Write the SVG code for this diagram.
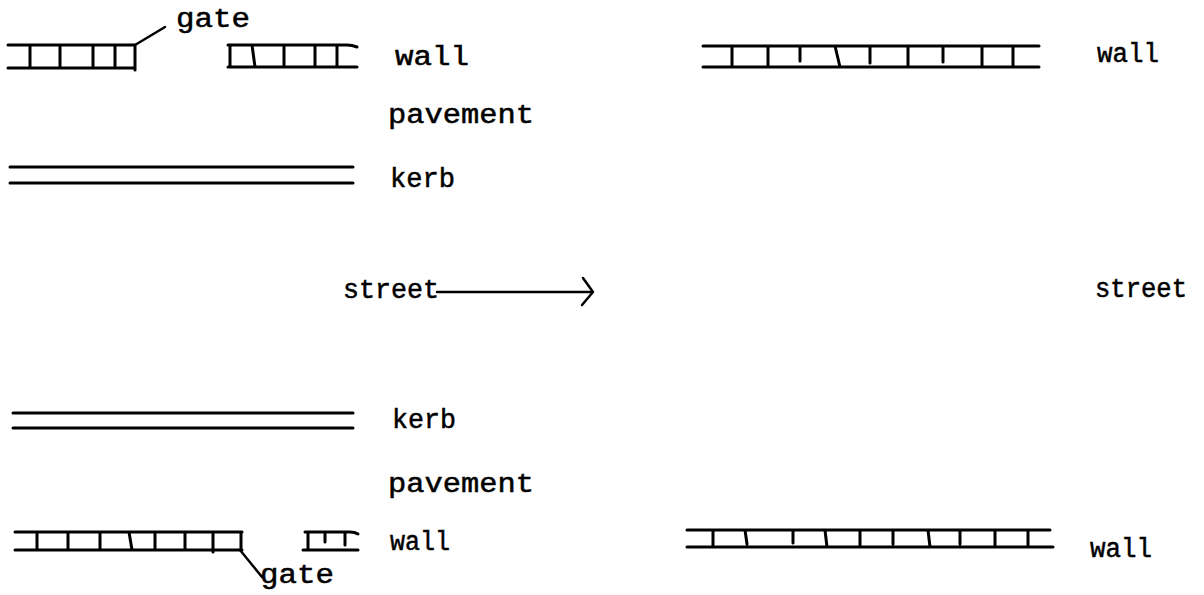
<svg xmlns="http://www.w3.org/2000/svg" width="1204" height="595" viewBox="0 0 1204 595">
<style>
.w{fill:none;stroke:#000;stroke-width:3;stroke-linecap:round;stroke-linejoin:round}
.k{fill:none;stroke:#000;stroke-width:3;stroke-linecap:round}
.c{fill:none;stroke:#000;stroke-width:2.5;stroke-linecap:round;stroke-linejoin:round}
text{font-family:"Liberation Mono","Courier New",monospace;fill:#000;stroke:#000;stroke-width:0.5;font-size:27px}
</style>
<rect width="1204" height="595" fill="#fff"/>
<g id="wall-top-left-a">
<path class="w" d="M8,45 H135 M8,68 H135 M30,45 V68 M60,45 V68 M93,45 V68 M115,45 V68 M135,45 V70"/>
</g>
<g id="wall-top-left-b">
<path class="w" d="M228,45 H347 Q352,45 357,47 M228,67 H357 M230,45 V67 M252,45 L255,67 M284,45 V67 M315,45 V67 M337,45 V67"/>
<text x="395" y="65" textLength="74" lengthAdjust="spacingAndGlyphs">wall</text>
</g>
<g id="gate-top">
<text x="176" y="27" textLength="74" lengthAdjust="spacingAndGlyphs">gate</text>
</g>
<g id="pavement-top">
<text x="388" y="123" textLength="146" lengthAdjust="spacingAndGlyphs">pavement</text>
</g>
<g id="kerb-top">
<path class="k" d="M10,167 H353 M10,183 H353"/>
<text x="390" y="187" textLength="65" lengthAdjust="spacingAndGlyphs">kerb</text>
</g>
<g id="street-left">
<text x="343" y="298" textLength="96" lengthAdjust="spacingAndGlyphs">street</text>
</g>
<g id="wall-top-right">
<path class="w" d="M703,46 H1039 M703,67 H1039 M732,46 V67 M768,46 V67 M800,46 V61 M835,46 L840,67 M870,46 V63 M908,46 V67 M943,46 V62 M982,46 V67 M1013,46 V67"/>
<text x="1097" y="62" textLength="62" lengthAdjust="spacingAndGlyphs">wall</text>
</g>
<g id="street-right">
<text x="1095" y="297" textLength="92" lengthAdjust="spacingAndGlyphs">street</text>
</g>
<g id="kerb-bottom">
<path class="k" d="M13,413 H353 M13,428 H353"/>
<text x="392" y="428" textLength="64" lengthAdjust="spacingAndGlyphs">kerb</text>
</g>
<g id="pavement-bottom">
<text x="388" y="492" textLength="146" lengthAdjust="spacingAndGlyphs">pavement</text>
</g>
<g id="wall-bottom-left-a">
<path class="w" d="M15,532 H242 M15,550 H242 M37,532 V550 M68,532 V550 M100,532 V550 M129,532 L132,550 M155,532 V550 M185,532 V550 M213,532 V552 M241,532 V550"/>
</g>
<g id="wall-bottom-left-b">
<path class="w" d="M305,532 H350 Q355,532 358,534 M303,550 H358 M308,532 V550 M325,532 V542 M345,532 V545"/>
<text x="390" y="550" textLength="60" lengthAdjust="spacingAndGlyphs">wall</text>
</g>
<g id="gate-bottom">
<text x="260" y="583" textLength="74" lengthAdjust="spacingAndGlyphs">gate</text>
</g>
<g id="wall-bottom-right">
<path class="w" d="M687,530 H1050 M687,547 H1053 M713,530 V545 M745,530 L747,544 M793,530 V543 M825,530 L827,547 M860,530 V547 M893,530 V544 M928,530 L930,547 M960,530 V544 M995,530 V545 M1028,530 V547"/>
<text x="1090" y="557" textLength="62" lengthAdjust="spacingAndGlyphs">wall</text>
</g>
<g id="connectors">
<path class="c" d="M135,45 L165,27"/>
<path class="c" d="M240,550 L262,577"/>
<path class="c" d="M437,292 H592"/>
<path class="c" d="M583,278 L593,292 L582,305"/>
</g>
</svg>
